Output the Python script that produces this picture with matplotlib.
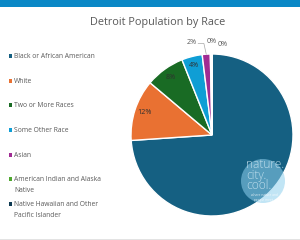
import matplotlib
matplotlib.use("Agg")
import matplotlib.pyplot as plt
from matplotlib.patches import Rectangle, Circle
import numpy as np

plt.rcParams['font.family'] = ['Open Sans', 'DejaVu Sans']

title = "Detroit Population by Race"
categories = ["Black or African American", "White", "Two or More Races",
              "Some Other Race", "Asian", "American Indian and Alaska Native",
              "Native Hawaiian and Other Pacific Islander"]
legend_labels = ["Black or African American", "White", "Two or More Races",
                 "Some Other Race", "Asian", "American Indian and Alaska\nNative",
                 "Native Hawaiian and Other\nPacific Islander"]
values = [73.8, 12.2, 7.8, 4.1, 1.6, 0.3, 0.03]
colors = ["#156082", "#E97132", "#196B24", "#0F9ED5", "#A02B93", "#4EA72E", "#0E3A52"]

W, H = 300, 240
fig = plt.figure(figsize=(3, 2.4), dpi=100)
fig.patch.set_facecolor("white")

def px(x, y):
    return x / W, 1 - y / H

# top bar and bottom rule
fig.patches.append(Rectangle(px(0, 7), 1, 7 / H, transform=fig.transFigure,
                             facecolor="#0A88C6", edgecolor="none", zorder=0))
fig.patches.append(Rectangle(px(0, 240), 1, 1.2 / H, transform=fig.transFigure,
                             facecolor="#E3E3E3", edgecolor="none", zorder=0))

fig.text(*px(158, 22), title, ha="center", va="center", fontsize=7.8, color="#595959")

# pie
cx, cy, r = 212, 135, 81
ax = fig.add_axes([(cx - r) / W, 1 - (cy + r) / H, 2 * r / W, 2 * r / H])
total = sum(values)
wedges, _ = ax.pie(values, colors=colors, startangle=90, counterclock=False,
                   wedgeprops=dict(edgecolor="white", linewidth=1.0))
ax.set_xlim(-1, 1); ax.set_ylim(-1, 1); ax.set_aspect("equal"); ax.axis("off")

pcts = [round(v / total * 100) for v in values]
# inside labels for mid-size slices
for i in (1, 2, 3):
    w = wedges[i]
    ang = np.deg2rad((w.theta1 + w.theta2) / 2)
    ax.text(0.88 * np.cos(ang), 0.88 * np.sin(ang), f"{pcts[i]}%",
            ha="center", va="center", fontsize=5.2, color="#303030")
# outside labels for small slices
offsets = {4: (-0.25, 1.14), 5: (0.0, 1.16), 6: (0.13, 1.12)}
for i, (ox, oy) in offsets.items():
    ax.text(ox, oy, f"{pcts[i]}%", ha="center", va="center", fontsize=5.2,
            color="#595959", clip_on=False)
w = wedges[4]
ang = np.deg2rad((w.theta1 + w.theta2) / 2)
ax.plot([-0.17, -0.10, np.cos(ang) * 1.0], [1.13, 1.13, np.sin(ang) * 1.0],
        color="#A6A6A6", lw=0.5, clip_on=False)

# watermark
wx, wy, wr = 263, 181, 22
wax = fig.add_axes([0, 0, 1, 1], facecolor="none")
wax.set_xlim(0, W); wax.set_ylim(H, 0); wax.axis("off")
wax.add_patch(Circle((wx, wy), wr, facecolor="#8FD0EE", alpha=0.55, edgecolor="none"))
wax.text(246, 158.5, "nature.\ncity.\ncool.", ha="left", va="top", fontsize=8.6,
         color="#D8EEF8", alpha=0.8, linespacing=0.74, fontweight="light")
wax.text(264, 197.5, "where nature and\npeople meet", ha="center", va="center",
         fontsize=2.3, color="white", alpha=0.8, linespacing=1.0)

# legend
leg_y = [56, 81, 105, 130, 155, 179, 204]
for yy, lab, col in zip(leg_y, legend_labels, colors):
    wax.add_patch(Rectangle((8.5, yy - 1.6), 3.2, 3.2, facecolor=col, edgecolor="none"))
    wax.text(14, yy - 3.3, lab, ha="left", va="top", fontsize=4.9, color="#595959",
             linespacing=1.85)

fig.savefig("out.png", dpi=100, facecolor="white")
